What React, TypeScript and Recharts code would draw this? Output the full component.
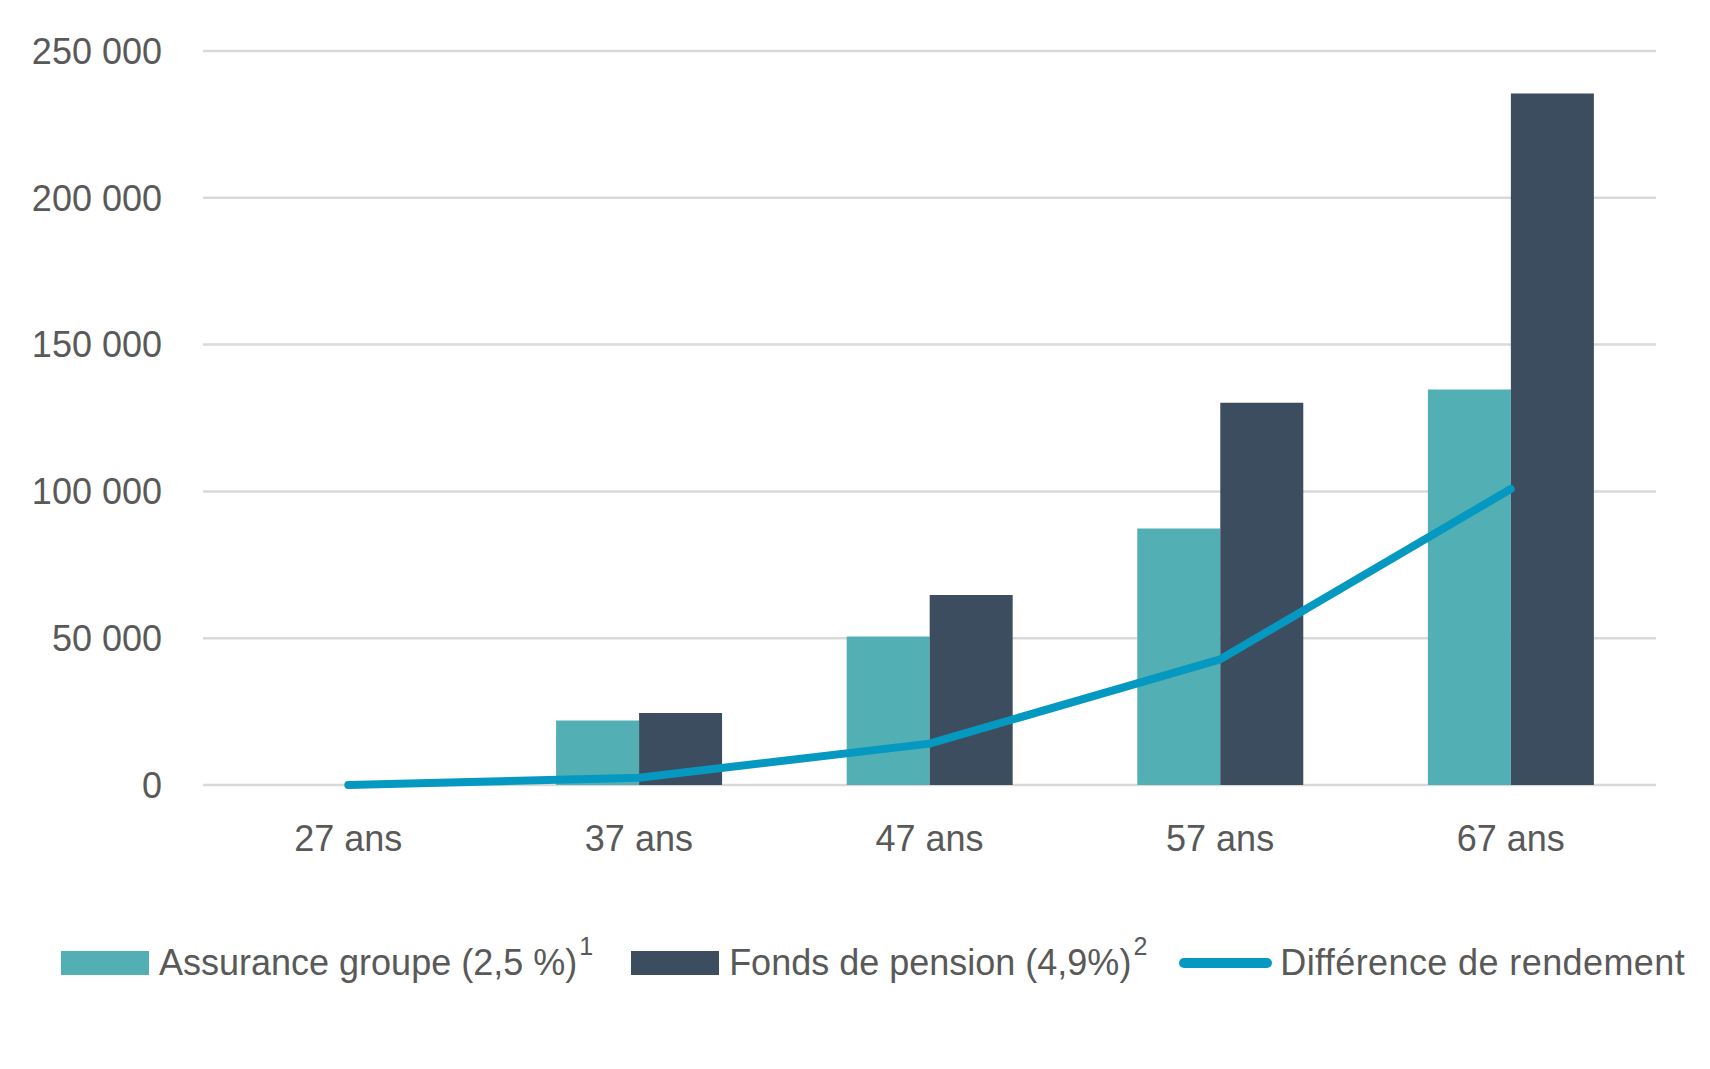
import React from "react";
import { ComposedChart, Bar, Line, XAxis, YAxis, CartesianGrid, Legend } from "recharts";

// values
const ages = ["27 ans", "37 ans", "47 ans", "57 ans", "67 ans"];
const assuranceGroupe = [0, 22000, 50600, 87400, 134700];
const fondsPension = [0, 24500, 64700, 130200, 235500];
const difference = [0, 2500, 14100, 42800, 100800];
const yTicks = [0, 50000, 100000, 150000, 200000, 250000];

const legendItems = [
  { label: "Assurance groupe (2,5 %)", sup: "1", color: "#52B0B4", kind: "rect", gap: 38 },
  { label: "Fonds de pension (4,9%)", sup: "2", color: "#3B4D5E", kind: "rect", gap: 32 },
  { label: "Différence de rendement", sup: "", color: "#0599C1", kind: "line", gap: 0 },
];

const data = ages.map((age, i) => ({
  age,
  assurance: assuranceGroupe[i],
  fonds: fondsPension[i],
  diff: difference[i],
}));

const FONT = "'Liberation Sans', Arial, sans-serif";
const TEXT = "#595959";

const fmt = (v: number) => String(v).replace(/\B(?=(\d{3})+(?!\d))/g, " ");

const ChartLegend = () => (
  <div
    style={{
      height: 169,
      paddingTop: 44,
      paddingLeft: 61,
      boxSizing: "border-box",
      display: "flex",
      alignItems: "flex-start",
      fontFamily: FONT,
      fontSize: 36,
      color: TEXT,
    }}
  >
    {legendItems.map((item) => (
      <div
        key={item.label}
        style={{ display: "flex", alignItems: "center", height: 38, marginRight: item.gap }}
      >
        {item.kind === "rect" ? (
          <span style={{ display: "inline-block", width: 88, height: 24, background: item.color }} />
        ) : (
          <span style={{ display: "inline-block", width: 93, height: 10, borderRadius: 5, background: item.color }} />
        )}
        <span
          style={{
            marginLeft: item.kind === "rect" ? 10 : 8,
            whiteSpace: "nowrap",
            lineHeight: "38px",
            letterSpacing: item.kind === "line" ? 0.4 : 0,
          }}
        >
          {item.label}
          {item.sup && (
            <span style={{ fontSize: 25, position: "relative", top: -20, marginLeft: 2, lineHeight: "0" }}>
              {item.sup}
            </span>
          )}
        </span>
      </div>
    ))}
  </div>
);

export default function App() {
  return (
    <div>
      <style>{`body{margin:0}`}</style>
      <ComposedChart
        width={1710}
        height={1069}
        data={data}
        margin={{ top: 51, right: 54, left: 0, bottom: 0 }}
        barGap={0}
        barCategoryGap="21.5%"
      >
        <CartesianGrid vertical={false} stroke="#D9D9D9" strokeWidth={2.5} />
        <XAxis
          dataKey="age"
          axisLine={false}
          tickLine={false}
          tickSize={0}
          tickMargin={40}
          height={115}
          interval={0}
          tick={{ fill: TEXT, fontSize: 36, fontFamily: FONT }}
        />
        <YAxis
          domain={[0, 250000]}
          ticks={yTicks}
          width={203}
          axisLine={false}
          tickLine={false}
          tickSize={0}
          tickMargin={41}
          tickFormatter={fmt}
          tick={{ fill: TEXT, fontSize: 36, fontFamily: FONT }}
        />
        <Legend verticalAlign="bottom" content={<ChartLegend />} />
        <Bar dataKey="assurance" fill="#52B0B4" isAnimationActive={false} />
        <Bar dataKey="fonds" fill="#3B4D5E" isAnimationActive={false} />
        <Line
          dataKey="diff"
          stroke="#0599C1"
          strokeWidth={8}
          strokeLinecap="round"
          strokeLinejoin="round"
          dot={false}
          activeDot={false}
          isAnimationActive={false}
        />
      </ComposedChart>
    </div>
  );
}
